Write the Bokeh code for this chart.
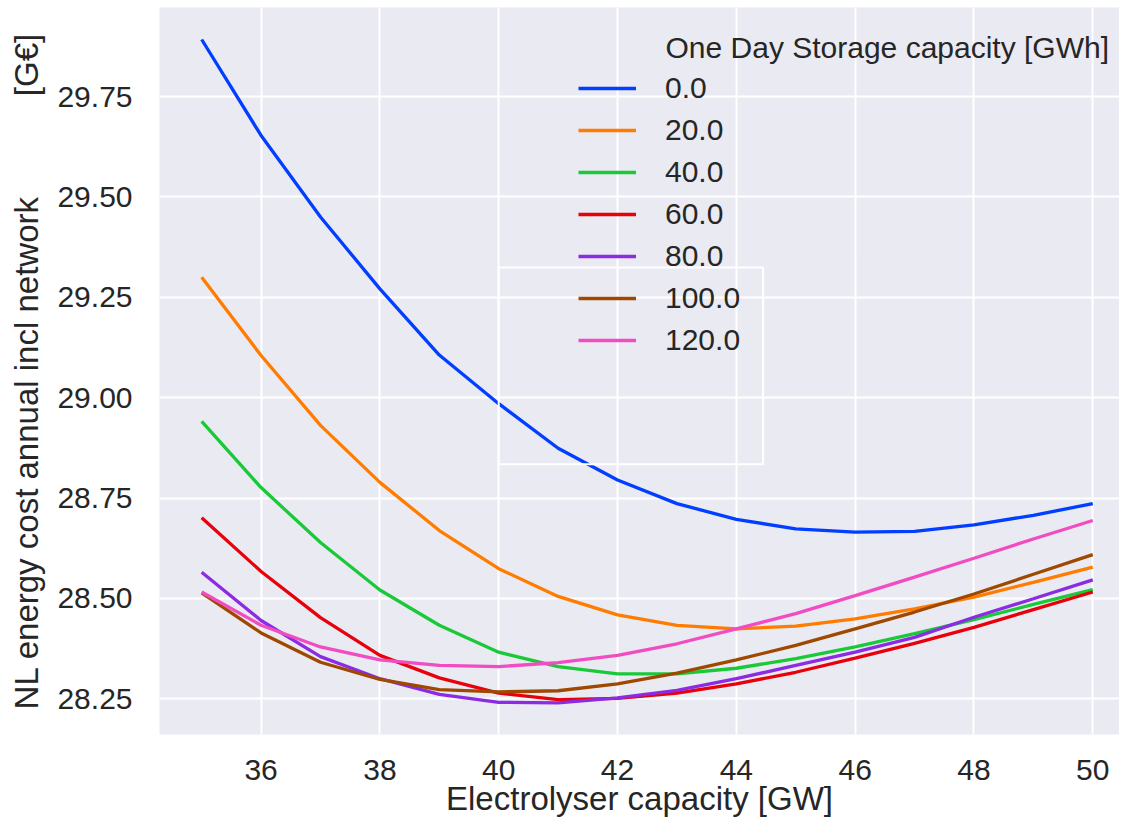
from bokeh.plotting import figure
from bokeh.models import Range1d, Legend, LegendItem, Label, BoxAnnotation, FixedTicker, NumeralTickFormatter
from bokeh.embed import file_html
from bokeh.resources import INLINE

# ---- data ----
electrolyser_gw = [35, 36, 37, 38, 39, 40, 41, 42, 43, 44, 45, 46, 47, 48, 49, 50]
storage_labels = ["0.0", "20.0", "40.0", "60.0", "80.0", "100.0", "120.0"]
cost_0 = [29.892, 29.653, 29.450, 29.271, 29.106, 28.985, 28.874, 28.795, 28.736, 28.697, 28.673, 28.665, 28.667, 28.683, 28.707, 28.736]
cost_20 = [29.300, 29.105, 28.931, 28.789, 28.669, 28.574, 28.505, 28.459, 28.433, 28.424, 28.431, 28.449, 28.474, 28.503, 28.540, 28.578]
cost_40 = [28.941, 28.776, 28.639, 28.521, 28.433, 28.366, 28.330, 28.312, 28.312, 28.326, 28.350, 28.379, 28.412, 28.447, 28.485, 28.522]
cost_60 = [28.701, 28.567, 28.452, 28.358, 28.302, 28.264, 28.248, 28.251, 28.264, 28.287, 28.316, 28.351, 28.388, 28.428, 28.472, 28.516]
cost_80 = [28.565, 28.445, 28.355, 28.300, 28.261, 28.241, 28.240, 28.252, 28.271, 28.300, 28.333, 28.366, 28.403, 28.453, 28.499, 28.546]
cost_100 = [28.514, 28.414, 28.341, 28.298, 28.273, 28.267, 28.270, 28.287, 28.314, 28.347, 28.383, 28.424, 28.466, 28.511, 28.560, 28.609]
cost_120 = [28.516, 28.433, 28.379, 28.347, 28.333, 28.330, 28.340, 28.358, 28.387, 28.424, 28.462, 28.507, 28.553, 28.600, 28.648, 28.694]
series = [cost_0, cost_20, cost_40, cost_60, cost_80, cost_100, cost_120]
colors = ["#023eff", "#ff7c00", "#1ac938", "#e8000b", "#8b2be2", "#9f4800", "#f14cc1"]
x_ticks = [36, 38, 40, 42, 44, 46, 48, 50]
y_ticks = [28.25, 28.50, 28.75, 29.00, 29.25, 29.50, 29.75]
legend_title = "One Day Storage capacity [GWh]"
x_label = "Electrolyser capacity [GW]"
y_label = "NL energy cost annual incl network" + "\u00a0" * 11 + "[G\u20ac]"
# stray white frame visible in the reference (data coords: left, right, bottom, top)
stray_box = [40.0, 44.45, 28.834, 29.324]

FONT = "Liberation Sans"
TXT = "#262626"

p = figure(width=1119, height=825, output_backend="svg", toolbar_location=None,
           x_range=Range1d(34.29, 50.45), y_range=Range1d(28.161, 29.9717),
           min_border_left=159, min_border_right=0, min_border_top=7, min_border_bottom=91)
p.background_fill_color = "#eaeaf2"
p.border_fill_color = "white"
p.outline_line_color = None

p.xgrid.grid_line_color = "white"
p.ygrid.grid_line_color = "white"
p.xgrid.grid_line_width = 2
p.ygrid.grid_line_width = 2

p.xaxis.ticker = FixedTicker(ticks=x_ticks)
p.yaxis.ticker = FixedTicker(ticks=y_ticks)
p.yaxis.formatter = NumeralTickFormatter(format="0.00")
for ax in (p.xaxis[0], p.yaxis[0]):
    ax.axis_line_color = None
    ax.major_tick_line_color = None
    ax.minor_tick_line_color = None
    ax.major_tick_out = 0
    ax.major_tick_in = 0
    ax.major_label_text_font = FONT
    ax.major_label_text_font_size = "30px"
    ax.major_label_text_color = TXT
    ax.axis_label_text_font = FONT
    ax.axis_label_text_font_size = "33px"
    ax.axis_label_text_font_style = "normal"
    ax.axis_label_text_color = TXT
p.xaxis.axis_label = x_label
p.yaxis.axis_label = y_label
p.xaxis.major_label_standoff = 25
p.xaxis.axis_label_standoff = -3
p.yaxis.major_label_standoff = 27
p.yaxis.axis_label_standoff = 9

renderers = []
for ys, c in zip(series, colors):
    r = p.line(electrolyser_gw, ys, line_color=c, line_width=3.3)
    renderers.append(r)

items = [LegendItem(label=lab, renderers=[r]) for lab, r in zip(storage_labels, renderers)]
legend = Legend(items=items, location=(419, 377), padding=0, margin=0, spacing=8,
                label_height=32, glyph_height=32, glyph_width=58, label_standoff=29,
                background_fill_alpha=0, border_line_color=None,
                label_text_font=FONT, label_text_font_size="30px", label_text_color=TXT)
p.add_layout(legend)

title = Label(x=506, y=687, x_units="screen", y_units="screen", text=legend_title,
              text_font=FONT, text_font_size="30px", text_color=TXT,
              text_baseline="middle", text_align="left")
p.add_layout(title)

box = BoxAnnotation(left=stray_box[0], right=stray_box[1], bottom=stray_box[2], top=stray_box[3],
                    fill_alpha=0, line_color="white", line_width=2, line_alpha=1)
p.add_layout(box)

open("out.html", "w").write(file_html(p, INLINE))
